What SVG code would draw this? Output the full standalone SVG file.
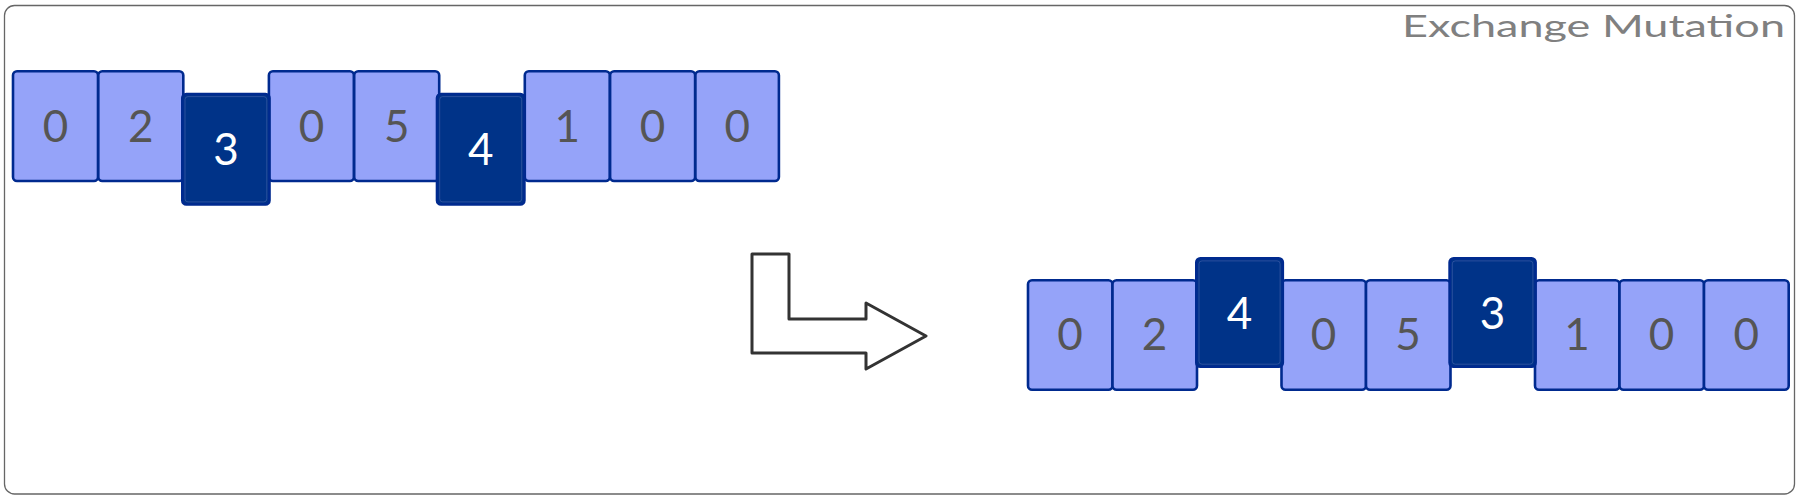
<svg xmlns="http://www.w3.org/2000/svg" width="1800" height="500" viewBox="0 0 1800 500">
<style>
.frame{fill:#fff;stroke:#666;stroke-width:1.3}
.lt{fill:#95A3F9;stroke:#002A8F;stroke-width:2.6}
.dk{fill:#003388;stroke:#002A8F;stroke-width:2.6}
.dki{fill:none;stroke:#4B67B0;stroke-width:0.8;opacity:0.7}
.tl{font-family:Lato,"Open Sans","Liberation Sans",sans-serif;font-size:44px;fill:#555;text-anchor:middle}
.td{font-family:Lato,"Open Sans","Liberation Sans",sans-serif;font-size:44px;fill:#fff;text-anchor:middle}
.title{font-family:Lato,"Open Sans","Liberation Sans",sans-serif;font-size:31px;fill:#808080;text-anchor:end}
.arrow{fill:#fff;stroke:#333;stroke-width:3;stroke-linejoin:round}
</style>
<rect class="frame" x="4.5" y="5.5" width="1790" height="488.5" rx="10"/>
<text class="title" x="1785" y="37" textLength="383" lengthAdjust="spacingAndGlyphs">Exchange Mutation</text>

<g id="before">
<g id="b0"><rect class="lt" x="13" y="71.3" width="85" height="109.7" rx="4"/><text class="tl" x="55.5" y="141.7">0</text></g>
<g id="b1"><rect class="lt" x="98.3" y="71.3" width="85" height="109.7" rx="4"/><text class="tl" x="140.8" y="141.7">2</text></g>
<g id="b3"><rect class="lt" x="268.9" y="71.3" width="85" height="109.7" rx="4"/><text class="tl" x="311.4" y="141.7">0</text></g>
<g id="b4"><rect class="lt" x="354.2" y="71.3" width="85" height="109.7" rx="4"/><text class="tl" x="396.7" y="141.7">5</text></g>
<g id="b6"><rect class="lt" x="524.8" y="71.3" width="85" height="109.7" rx="4"/><text class="tl" x="567.3" y="141.7">1</text></g>
<g id="b7"><rect class="lt" x="610.1" y="71.3" width="85" height="109.7" rx="4"/><text class="tl" x="652.6" y="141.7">0</text></g>
<g id="b8"><rect class="lt" x="695.4" y="71.3" width="83.5" height="109.7" rx="4"/><text class="tl" x="737.2" y="141.7">0</text></g>
<g id="b2"><rect class="dk" x="182.3" y="94" width="87.2" height="110.5" rx="4"/><rect class="dki" x="185" y="96.6" width="81.8" height="105.3" rx="3"/><text class="td" x="225.9" y="165">3</text></g>
<g id="b5"><rect class="dk" x="437" y="94" width="87.4" height="110.5" rx="4"/><rect class="dki" x="439.7" y="96.6" width="82" height="105.3" rx="3"/><text class="td" x="480.7" y="165">4</text></g>
</g>

<g id="connectors">
<polygon class="arrow" points="752,254 789,254 789,319 866,319 866,303 926,336 866,369 866,353 752,353"/>
</g>

<g id="after">
<g id="a0"><rect class="lt" x="1028" y="280.3" width="84.5" height="109.5" rx="4"/><text class="tl" x="1070" y="350">0</text></g>
<g id="a1"><rect class="lt" x="1112.5" y="280.3" width="84.5" height="109.5" rx="4"/><text class="tl" x="1154.5" y="350">2</text></g>
<g id="a3"><rect class="lt" x="1281.5" y="280.3" width="84.5" height="109.5" rx="4"/><text class="tl" x="1323.5" y="350">0</text></g>
<g id="a4"><rect class="lt" x="1366" y="280.3" width="84.5" height="109.5" rx="4"/><text class="tl" x="1408" y="350">5</text></g>
<g id="a6"><rect class="lt" x="1535" y="280.3" width="84.5" height="109.5" rx="4"/><text class="tl" x="1577" y="350">1</text></g>
<g id="a7"><rect class="lt" x="1619.5" y="280.3" width="84.5" height="109.5" rx="4"/><text class="tl" x="1661.5" y="350">0</text></g>
<g id="a8"><rect class="lt" x="1704" y="280.3" width="84.7" height="109.5" rx="4"/><text class="tl" x="1746.3" y="350">0</text></g>
<g id="a2"><rect class="dk" x="1196.3" y="258.3" width="86.5" height="108.5" rx="4"/><rect class="dki" x="1199" y="260.9" width="81.1" height="103.3" rx="3"/><text class="td" x="1239.5" y="329.3">4</text></g>
<g id="a5"><rect class="dk" x="1449.6" y="258.3" width="86" height="108.5" rx="4"/><rect class="dki" x="1452.3" y="260.9" width="80.6" height="103.3" rx="3"/><text class="td" x="1492.6" y="329.3">3</text></g>
</g>
</svg>
